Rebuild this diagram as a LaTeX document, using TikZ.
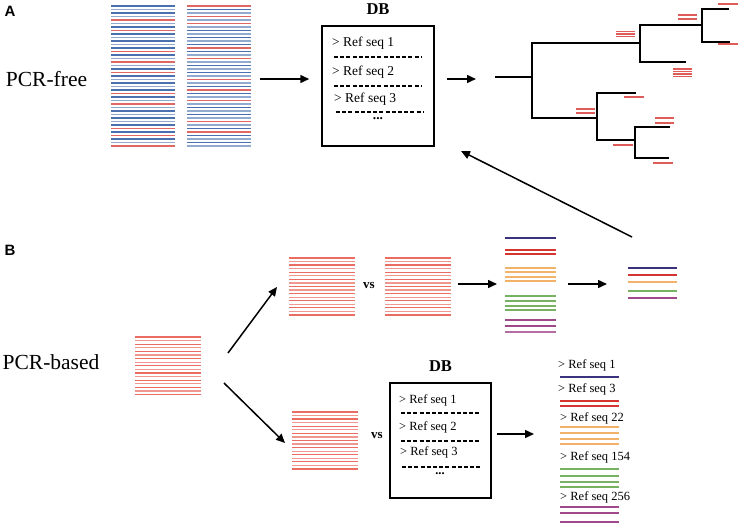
\documentclass[tikz,border=0pt]{standalone}
\usepackage{fontspec}
\setmainfont{Liberation Serif}
\setsansfont{Liberation Sans}
\usetikzlibrary{positioning, arrows.meta, calc}
\definecolor{rdBlue}{RGB}{74, 112, 176}
\definecolor{rdRed}{RGB}{214, 52, 48}
\definecolor{rdPink}{RGB}{230, 82, 72}
\definecolor{rdNavy}{RGB}{58, 50, 125}
\definecolor{rdOrange}{RGB}{242, 178, 105}
\definecolor{rdGreen}{RGB}{118, 178, 98}
\definecolor{rdPurple}{RGB}{160, 72, 140}

\begin{document}
\begin{tikzpicture}[x=1pt, y=-1pt, every node/.style={inner sep=0pt},
      read/.style={line width=1.3pt},
      hit/.style={line width=1.2pt, color=rdRed!80},
      edge/.style={line width=1.4pt, line cap=rect},
      arr/.style={-{Triangle[length=9pt, width=8pt]}, line width=1.5pt},
      sep/.style={line width=1.6pt, dash pattern=on 4pt off 2.2pt},
      dbbox/.style={draw, line width=1.5pt},
      seq/.style={anchor=west, font=\fontsize{13.5}{15}\selectfont},
      seqs/.style={anchor=west, font=\fontsize{12.5}{14}\selectfont},
      head/.style={font=\bfseries\fontsize{16.5}{18}\selectfont},
      panel/.style={font=\sffamily\bfseries\fontsize{15}{17}\selectfont},
      method/.style={font=\fontsize{21.5}{24}\selectfont},
      vs/.style={font=\bfseries\fontsize{13}{15}\selectfont}]
    \useasboundingbox (0,0) rectangle (740,524);

    % panel A
    \node[panel]  (lblA)    at (10,11)  {A};
    \node[method] (pcrfree) at (46.5,79) {PCR-free};
    \foreach \i in {0,2,...,40} {
      \draw[read, rdBlue]     (111,6+3.5*\i) -- (175,6+3.5*\i);
      \draw[read, rdBlue!60]  (187,6+3.5*\i) -- (251,6+3.5*\i);
    }
    \foreach \i in {1,3,...,39} {
      \draw[read, rdBlue!60]  (111,6+3.5*\i) -- (175,6+3.5*\i);
      \draw[read, rdBlue]     (187,6+3.5*\i) -- (251,6+3.5*\i);
    }
    \foreach \i in {4,7,13,16,19,25,28,35,37,40}
      \draw[read, rdRed!75] (111,6+3.5*\i) -- (175,6+3.5*\i);
    \foreach \i in {0,3,5,12,15,21,24,27,33,36}
      \draw[read, rdRed!75] (187,6+3.5*\i) -- (251,6+3.5*\i);
    \coordinate (mixOut) at (260,79);

    \node[dbbox, minimum width=112pt, minimum height=120pt] (dbA) at (378,86) {};
    \node[head, above=10.5pt of dbA] (dbAlbl) {DB};
    \node[seq] (refA1) at (332,43) {> Ref seq 1};
    \node[seq] (refA2) at (332,72) {> Ref seq 2};
    \node[seq] (refA3) at (334,99) {> Ref seq 3};
    \node[seq, anchor=center, font=\bfseries\fontsize{13.5}{15}\selectfont] (dotsA) at (378,119) {...};
    \draw[sep] (334,57) -- (421,57);
    \draw[sep] (334,86) -- (421,86);
    \draw[sep] (336,112) -- (423,112);
    \draw[arr, shorten >=12pt] (mixOut) -- (mixOut -| dbA.west);
    \coordinate (treeIn) at (476,79);
    \draw[arr, shorten <=12pt] (treeIn -| dbA.east) -- (treeIn);

    % tree
    \coordinate (root) at (496,77);
    \draw[edge] (root) -- (532,77);
    \draw[edge] (640,43) -| (532,118) -- (597,118);
    \draw[edge] (702,25) -| (640,62) -- (685,62);
    \draw[edge] (728,9) -| (702,42) -- (729,42);
    \draw[edge] (635,93) -| (597,140) -- (635,140);
    \draw[edge] (669,127) -| (635,158) -- (668,158);
    \draw[hit] (718,4) -- (738,4);
    \foreach \y in {15,19} \draw[hit] (678,\y) -- (697,\y);
    \draw[hit] (718,44) -- (738,44);
    \foreach \y in {31.5,34,36.5} \draw[hit] (616,\y) -- (635,\y);
    \foreach \y in {69,71.5,74,76.5} \draw[hit] (673,\y) -- (692,\y);
    \draw[hit] (624,97) -- (644,97);
    \foreach \y in {109,113} \draw[hit] (576,\y) -- (595,\y);
    \foreach \y in {118,123} \draw[hit] (655,\y) -- (674,\y);
    \draw[hit] (613,145) -- (633,145);
    \draw[hit] (653,163) -- (673,163);

    % panel B
    \node[panel]  (lblB)     at (10,250) {B};
    \node[method] (pcrbased) at (51,362) {PCR-based};
    \foreach \i in {0,...,16} {
      \pgfmathsetmacro\tint{mod(\i,2)==0 ? 85 : 60}
      \draw[read, rdPink!\tint] (135,337+3.6*\i) -- (201,337+3.6*\i);
      \draw[read, rdPink!\tint] (289,258+3.56*\i) -- (355,258+3.56*\i);
      \draw[read, rdPink!\tint] (385,258+3.56*\i) -- (451,258+3.56*\i);
      \draw[read, rdPink!\tint] (292,412+3.56*\i) -- (358,412+3.56*\i);
    }
    \coordinate (ampUp)   at (228,353);
    \coordinate (ampDown) at (224,383);
    \coordinate (pairIn)  at (277,287);
    \coordinate (dbIn)    at (285,443);
    \draw[arr] (ampUp) -- (pairIn);
    \draw[arr] (ampDown) -- (dbIn);
    \node[vs] (vsUp)  at (369,286) {vs};
    \node[vs] (vsLow) at (377,435) {vs};

    % clustering
    \coordinate (clustOut) at (458,284);
    \coordinate (clustIn)  at (497,284);
    \draw[arr] (clustOut) -- (clustIn);
    \foreach \y/\c in {238/rdNavy, 250/rdRed, 254/rdRed, 268/rdOrange, 272/rdOrange,
        277/rdOrange, 281/rdOrange, 296/rdGreen, 301/rdGreen, 306/rdGreen,
        310/rdGreen, 320/rdPurple, 326/rdPurple, 332/rdPurple!80}
      \draw[read, \c] (505,\y) -- (556,\y);
    \coordinate (otuOut) at (568,284);
    \coordinate (otuIn)  at (607,284);
    \draw[arr] (otuOut) -- (otuIn);
    \foreach \y/\c in {268/rdNavy, 275/rdRed, 282/rdOrange, 291/rdGreen, 298/rdPurple}
      \draw[read, \c] (628,\y) -- (677,\y);
    \coordinate (backOut) at (632,237);
    \coordinate (backIn)  at (461,151);
    \draw[arr] (backOut) -- (backIn);

    % reference based
    \node[dbbox, minimum width=101pt, minimum height=115pt] (dbB) at (440.5,440.5) {};
    \node[head, above=11pt of dbB] (dbBlbl) {DB};
    \node[seqs] (refB1) at (399,400) {> Ref seq 1};
    \node[seqs] (refB2) at (399,427) {> Ref seq 2};
    \node[seqs] (refB3) at (400,452) {> Ref seq 3};
    \node[seqs, anchor=center, font=\bfseries\fontsize{12.5}{14}\selectfont] (dotsB) at (440,474) {...};
    \draw[sep] (401,413) -- (480,413);
    \draw[sep] (401,441) -- (480,441);
    \draw[sep] (402,467) -- (481,467);
    \coordinate (hitIn) at (534,434);
    \draw[arr, shorten <=5pt] (hitIn -| dbB.east) -- (hitIn);

    \node[seqs] (hit1)   at (558,365) {> Ref seq 1};
    \node[seqs] (hit3)   at (558,389) {> Ref seq 3};
    \node[seqs] (hit22)  at (560,418) {> Ref seq 22};
    \node[seqs] (hit154) at (560,457) {> Ref seq 154};
    \node[seqs] (hit256) at (560,497) {> Ref seq 256};
    \foreach \y/\c in {377/rdNavy, 401/rdRed, 406/rdRed, 427/rdOrange, 433/rdOrange,
        439/rdOrange, 444/rdOrange, 469/rdGreen, 476/rdGreen, 482/rdGreen,
        487/rdGreen, 507/rdPurple, 513/rdPurple, 522/rdPurple}
      \draw[read, \c] (560,\y) -- (619,\y);
  \end{tikzpicture}
\end{document}
